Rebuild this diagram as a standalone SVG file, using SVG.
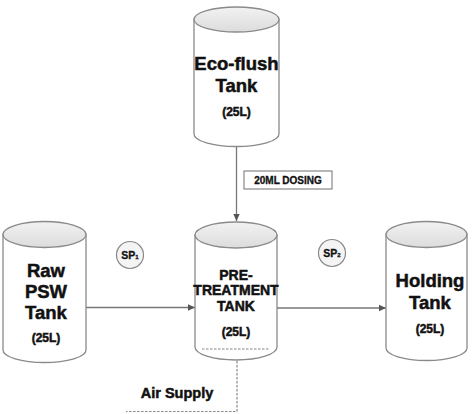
<svg xmlns="http://www.w3.org/2000/svg" width="474" height="414" viewBox="0 0 474 414">
<defs>
<linearGradient id="lid" x1="0" y1="0" x2="0" y2="1">
<stop offset="0" stop-color="#f2f2f2"/><stop offset="1" stop-color="#dcdcdc"/>
</linearGradient>
<marker id="arr" markerWidth="8" markerHeight="8" refX="7" refY="4" orient="auto" markerUnits="userSpaceOnUse">
<path d="M0,0.8 L7,4 L0,7.2 Z" fill="#555"/>
</marker>
</defs>
<style>
.body{fill:#fff;stroke:#8a8a8a;stroke-width:1.3}
.lid{fill:url(#lid);stroke:#8a8a8a;stroke-width:1.3}
.t{font-family:"Liberation Sans",Arial,sans-serif;font-weight:bold;fill:#111;stroke:#111;stroke-width:0.5;text-anchor:middle}
.big{font-size:18.5px}
.sm{font-size:12px}
.line{stroke:#777;stroke-width:1.3;fill:none}
.dash{stroke:#888;stroke-width:1.2;stroke-dasharray:2.5,1.5;fill:none}
.sp{fill:#f4f4f4;stroke:#888;stroke-width:1.2}
</style>
<rect width="474" height="414" fill="#fff"/>
<g id="connectors">
<line class="line" x1="236.5" y1="146.5" x2="236.5" y2="221" marker-end="url(#arr)"/>
<line class="line" x1="86" y1="307.5" x2="195" y2="307.5" marker-end="url(#arr)"/>
<line class="line" x1="277" y1="308" x2="386" y2="308" marker-end="url(#arr)"/>
<polyline class="dash" points="237,349 237,411.5 126,411.5"/>
</g>
<g id="ecoflush">
<path class="body" d="M194,19.5 L194,134 A42.5,12.5 0 0 0 279,134 L279,19.5 Z"/>
<ellipse class="lid" cx="236.5" cy="19.5" rx="42.5" ry="12.5"/>
<text class="t big" x="236.5" y="69.5">Eco-flush</text>
<text class="t big" x="236.5" y="91.5">Tank</text>
<text class="t sm" x="236.5" y="116">(25L)</text>
</g>
<g id="dosing">
<rect x="244" y="171" width="88" height="18" fill="#fff" stroke="#888" stroke-width="1.2"/>
<text class="t" x="288" y="184" style="font-size:10px;stroke-width:0.3">20ML DOSING</text>
</g>
<g id="rawpsw">
<path class="body" d="M3,234.5 L3,350 A41.5,12.5 0 0 0 86,350 L86,234.5 Z"/>
<ellipse class="lid" cx="44.5" cy="234.5" rx="41.5" ry="13"/>
<text class="t big" x="46" y="276.5">Raw</text>
<text class="t big" x="46" y="297.5">PSW</text>
<text class="t big" x="46" y="318.5">Tank</text>
<text class="t sm" x="46" y="342">(25L)</text>
</g>
<g id="sp1">
<circle class="sp" cx="130" cy="255" r="13.5"/>
<text class="t" x="130" y="259" style="font-size:10.5px;stroke-width:0.3">SP<tspan style="font-size:6px">1</tspan></text>
</g>
<g id="pretreatment">
<path class="body" d="M195,235 L195,347 A41,13 0 0 0 277,347 L277,235 Z"/>
<ellipse class="lid" cx="236" cy="235" rx="41" ry="13"/>
<text class="t" x="236" y="280" style="font-size:14px">PRE-</text>
<text class="t" x="236" y="294.5" style="font-size:14px">TREATMENT</text>
<text class="t" x="236" y="311" style="font-size:14px">TANK</text>
<text class="t sm" x="236" y="335.5">(25L)</text>
<line class="dash" x1="202" y1="349" x2="270" y2="349"/>
</g>
<g id="sp2">
<circle class="sp" cx="332" cy="253" r="13.5"/>
<text class="t" x="332" y="257" style="font-size:10.5px;stroke-width:0.3">SP<tspan style="font-size:6px">2</tspan></text>
</g>
<g id="holding">
<path class="body" d="M386,234.5 L386,348 A40.5,12.5 0 0 0 467,348 L467,234.5 Z"/>
<ellipse class="lid" cx="426.5" cy="234.5" rx="40.5" ry="13"/>
<text class="t big" x="430" y="286.5">Holding</text>
<text class="t big" x="430" y="308.5">Tank</text>
<text class="t sm" x="430" y="332.5">(25L)</text>
</g>
<g id="airsupply">
<text class="t" x="177" y="398" style="font-size:14.5px">Air Supply</text>
</g>
</svg>
